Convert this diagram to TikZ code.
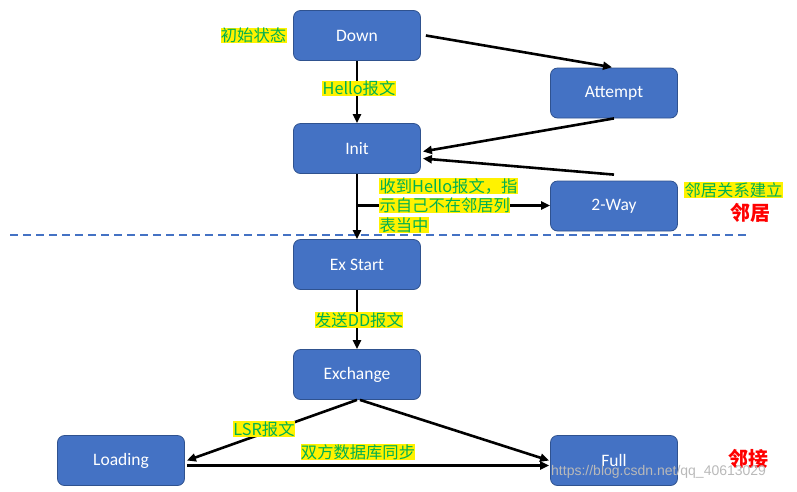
\documentclass[tikz,border=0pt]{standalone}
\usepackage{fontspec}
\setmainfont{Carlito}
\newfontfamily\cjk{Noto Sans CJK SC}
\newfontfamily\wmfont{Liberation Sans}
\usetikzlibrary{arrows.meta,calc}
\definecolor{boxfill}{HTML}{4472C4}
\definecolor{boxborder}{HTML}{2F528F}
\definecolor{lblgreen}{HTML}{00B050}
\definecolor{dashblue}{HTML}{4472C4}
\begin{document}
\begin{tikzpicture}[x=1pt,y=-1pt,
  box/.style={draw=boxborder,fill=boxfill,rounded corners=7pt,minimum width=127pt,minimum height=50pt,
    text=white,font=\fontsize{17.5}{20}\selectfont,line width=0.8pt},
  lbl/.style={fill=yellow,text=lblgreen,inner xsep=0.4pt,inner ysep=0.3pt,font=\cjk\fontsize{16.3}{19.5}\selectfont},
  arr/.style={line width=2.6pt,-{Triangle[length=9pt,width=8pt]}},
  nb/.style={text=red,font=\cjk\bfseries\fontsize{20}{22}\selectfont,inner sep=0pt}
]
\useasboundingbox (0,0) rectangle (797,491);
% nodes
\node[box] (down)     at (357,35.5)  {Down};
\node[box] (attempt)  at (614,93)    {Attempt};
\node[box] (init)     at (357,148.5) {Init};
\node[box] (twoway)   at (614,206)   {2-Way};
\node[box] (exstart)  at (357,264.5) {Ex Start};
\node[box] (exchange) at (357,374.5) {Exchange};
\node[box] (loading)  at (121,460.5) {Loading};
\node[box] (full)     at (614,460.5) {Full};

% dashed separator
\draw[dashblue,line width=1.3pt,dash pattern=on 8pt off 5pt] (10,235) -- (748,235);

% connectors
\coordinate (dstart) at ($(down.east)+(5,0)$);
\draw[arr,shorten >=2pt] (dstart) -- (attempt.north);
\draw[arr] (down.south) -- (init.north);
\draw[arr] (attempt.south) -- ($(init.east)+(2,3)$);
\coordinate (tstart) at ($(twoway.north)+(0,-6)$);
\draw[arr] (tstart) -- ($(init.east)+(2,10)$);
\draw[arr] (init.south) -- (exstart.north);
\coordinate (branch) at (357,205.5);
\draw[arr] (branch) -- (branch -| twoway.west);
\draw[arr] (exstart.south) -- (exchange.north);
\draw[arr] (exchange.south) -- ($(loading.east)+(2,0)$);
\draw[arr] ($(exchange.south)+(3,0)$) -- ($(full.west)+(-1,0)$);
\draw[arr] ($(loading.east)+(2,5)$) -- ($(full.west)+(-1,5)$);

% labels
\node[lbl] (l1) at (253.5,35.5) {初始状态};
\node[lbl] (l2) at (359,88.5) {Hello报文};
\node[lbl,anchor=west] (l3a) at (379,186) {收到Hello报文，指};
\node[lbl,anchor=west] (l3b) at (379,205.5) {示自己不在邻居列};
\node[lbl,anchor=west] (l3c) at (379,225) {表当中};
\node[lbl,anchor=west] (l4) at (684,190) {邻居关系建立};
\node[nb] (n1) at (750,213) {邻居};
\node[lbl] (l5) at (359,320) {发送DD报文};
\node[lbl] (l6) at (264,429) {LSR报文};
\node[lbl] (l7) at (358,452) {双方数据库同步};
\node[nb] (n2) at (748,459) {邻接};
\node[text=gray!55,font=\wmfont\fontsize{14}{16}\selectfont,anchor=west,inner sep=0pt] (wm) at (551,472) {https://blog.csdn.net/qq\_40613029};
\end{tikzpicture}
\end{document}
